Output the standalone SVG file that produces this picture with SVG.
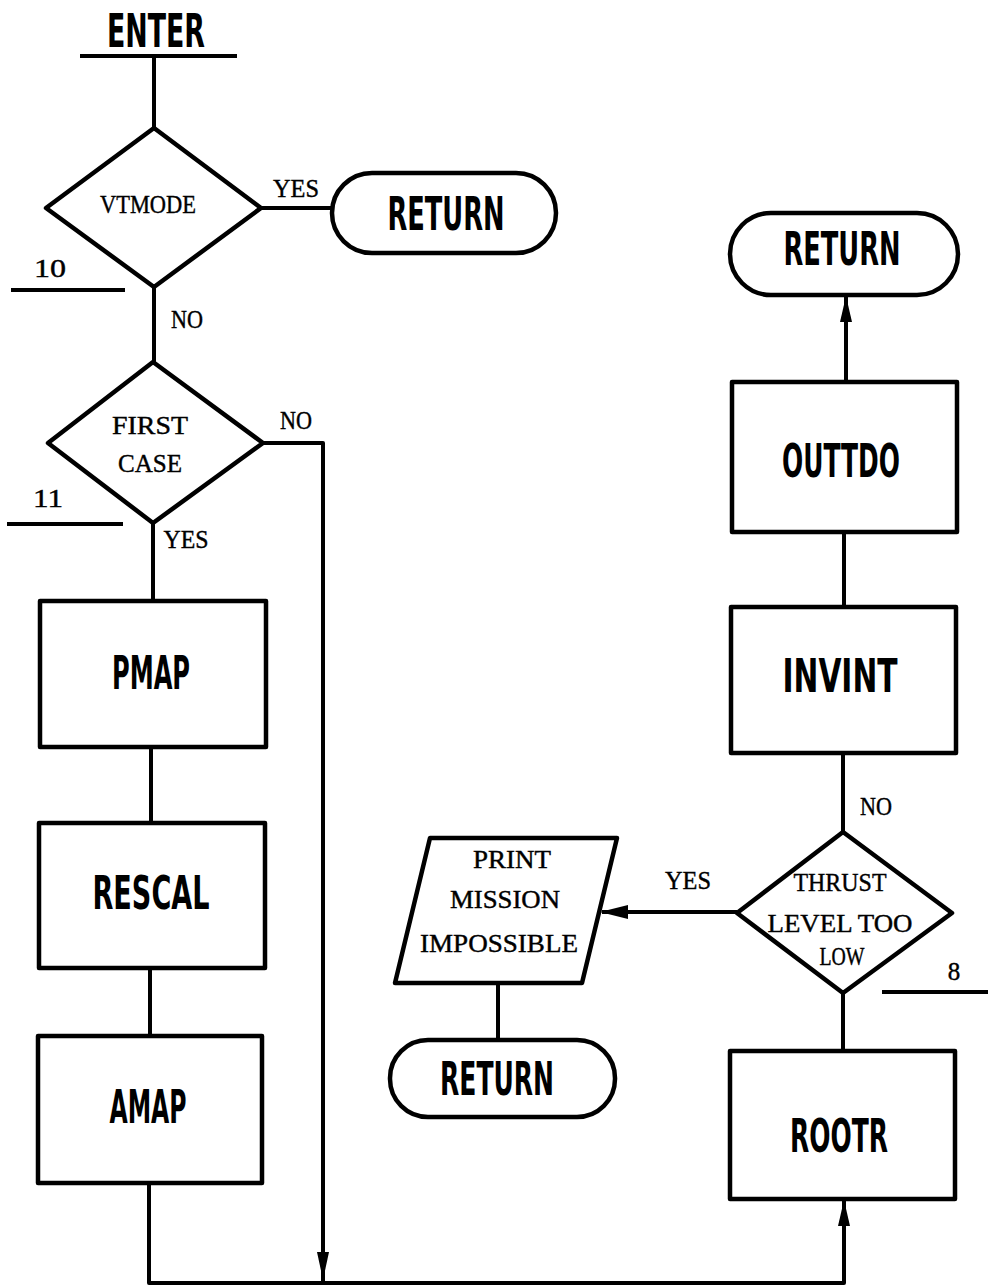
<svg xmlns="http://www.w3.org/2000/svg" width="988" height="1288" viewBox="0 0 988 1288">
<style>
.b{fill:#fff;stroke:#000;stroke-width:4.5;stroke-linejoin:round}
.c{fill:none;stroke:#000;stroke-width:4;stroke-linejoin:round}
.t{font-family:"DejaVu Sans","Liberation Sans",sans-serif;font-stretch:condensed;font-weight:bold;font-size:46px;fill:#000;text-anchor:middle}
.m{font-family:"Liberation Serif","DejaVu Serif",serif;font-size:25px;fill:#000;stroke:#000;stroke-width:0.4;text-anchor:middle}
.ah{fill:#000}
</style>
<rect width="988" height="1288" fill="#fff"/>
<g id="connectors">
<path class="c" d="M154 56 V128"/>
<path class="c" d="M261 208 H332"/>
<path class="c" d="M154 287 V362"/>
<path class="c" d="M263 443 H323 V1283"/>
<polygon class="ah" points="323,1280 317,1252 329,1252"/>
<path class="c" d="M153 523 V601"/>
<path class="c" d="M151 747 V823"/>
<path class="c" d="M150 968 V1036"/>
<path class="c" d="M149 1183 V1283 H844 V1199"/>
<polygon class="ah" points="844,1200 838,1226 850,1226"/>
<path class="c" d="M843 1051 V993"/>
<path class="c" d="M737 912 H602"/>
<polygon class="ah" points="600,912 628,905 628,919"/>
<path class="c" d="M498 983 V1040"/>
<path class="c" d="M843 832 V753"/>
<path class="c" d="M844 607 V532"/>
<path class="c" d="M846 382 V297"/>
<polygon class="ah" points="846,296 840,322 852,322"/>
</g>
<g id="enter">
<text class="t" x="156" y="47" textLength="98" lengthAdjust="spacingAndGlyphs">ENTER</text>
<path class="c" d="M80 56 H237"/>
</g>
<g id="vtmode">
<polygon class="b" points="154,128 261,208 154,287 46,208"/>
<text class="m" x="148" y="213" textLength="96" lengthAdjust="spacingAndGlyphs">VTMODE</text>
</g>
<text class="m" x="296" y="197" textLength="46" lengthAdjust="spacingAndGlyphs">YES</text>
<g id="return1">
<rect class="b" x="332" y="173" width="224" height="80" rx="40"/>
<text class="t" x="446" y="230" textLength="117" lengthAdjust="spacingAndGlyphs">RETURN</text>
</g>
<g id="ref10">
<text class="m" x="50" y="277" textLength="32" lengthAdjust="spacingAndGlyphs">10</text>
<path class="c" d="M11 290 H125"/>
</g>
<text class="m" x="187" y="328" textLength="32" lengthAdjust="spacingAndGlyphs">NO</text>
<g id="firstcase">
<polygon class="b" points="153,362 263,443 153,523 48,443"/>
<text class="m" x="150" y="434" textLength="76" lengthAdjust="spacingAndGlyphs">FIRST</text>
<text class="m" x="150" y="472" textLength="64" lengthAdjust="spacingAndGlyphs">CASE</text>
</g>
<text class="m" x="296" y="429" textLength="32" lengthAdjust="spacingAndGlyphs">NO</text>
<g id="ref11">
<text class="m" x="48" y="507" textLength="30" lengthAdjust="spacingAndGlyphs">11</text>
<path class="c" d="M7 524 H123"/>
</g>
<text class="m" x="186" y="548" textLength="45" lengthAdjust="spacingAndGlyphs">YES</text>
<g id="pmap">
<rect class="b" x="40" y="601" width="226" height="146"/>
<text class="t" x="151" y="689" textLength="78" lengthAdjust="spacingAndGlyphs">PMAP</text>
</g>
<g id="rescal">
<rect class="b" x="39" y="823" width="226" height="145"/>
<text class="t" x="151" y="909" textLength="117" lengthAdjust="spacingAndGlyphs">RESCAL</text>
</g>
<g id="amap">
<rect class="b" x="38" y="1036" width="224" height="147"/>
<text class="t" x="148" y="1123" textLength="77" lengthAdjust="spacingAndGlyphs">AMAP</text>
</g>
<g id="return2">
<rect class="b" x="730" y="213" width="228" height="82" rx="41"/>
<text class="t" x="842" y="265" textLength="117" lengthAdjust="spacingAndGlyphs">RETURN</text>
</g>
<g id="outtdo">
<rect class="b" x="732" y="382" width="225" height="150"/>
<text class="t" x="841" y="477" textLength="118" lengthAdjust="spacingAndGlyphs">OUTTDO</text>
</g>
<g id="invint">
<rect class="b" x="731" y="607" width="225" height="146"/>
<text class="t" x="840" y="692" textLength="115" lengthAdjust="spacingAndGlyphs">INVINT</text>
</g>
<text class="m" x="876" y="815" textLength="32" lengthAdjust="spacingAndGlyphs">NO</text>
<g id="thrust">
<polygon class="b" points="843,832 952,913 843,993 737,913"/>
<text class="m" x="840" y="891" textLength="93" lengthAdjust="spacingAndGlyphs">THRUST</text>
<text class="m" x="840" y="932" textLength="145" lengthAdjust="spacingAndGlyphs">LEVEL  TOO</text>
<text class="m" x="842" y="965" textLength="45" lengthAdjust="spacingAndGlyphs">LOW</text>
</g>
<text class="m" x="688" y="889" textLength="46" lengthAdjust="spacingAndGlyphs">YES</text>
<g id="ref8">
<text class="m" x="954" y="980">8</text>
<path class="c" d="M882 992 H988"/>
</g>
<g id="print">
<polygon class="b" points="430,838 617,838 582,983 395,983"/>
<text class="m" x="512" y="868" textLength="78" lengthAdjust="spacingAndGlyphs">PRINT</text>
<text class="m" x="505" y="908" textLength="110" lengthAdjust="spacingAndGlyphs">MISSION</text>
<text class="m" x="499" y="952" textLength="158" lengthAdjust="spacingAndGlyphs">IMPOSSIBLE</text>
</g>
<g id="return3">
<rect class="b" x="390" y="1040" width="225" height="77" rx="38"/>
<text class="t" x="497" y="1095" textLength="114" lengthAdjust="spacingAndGlyphs">RETURN</text>
</g>
<g id="rootr">
<rect class="b" x="730" y="1051" width="225" height="148"/>
<text class="t" x="839" y="1152" textLength="98" lengthAdjust="spacingAndGlyphs">ROOTR</text>
</g>
</svg>
